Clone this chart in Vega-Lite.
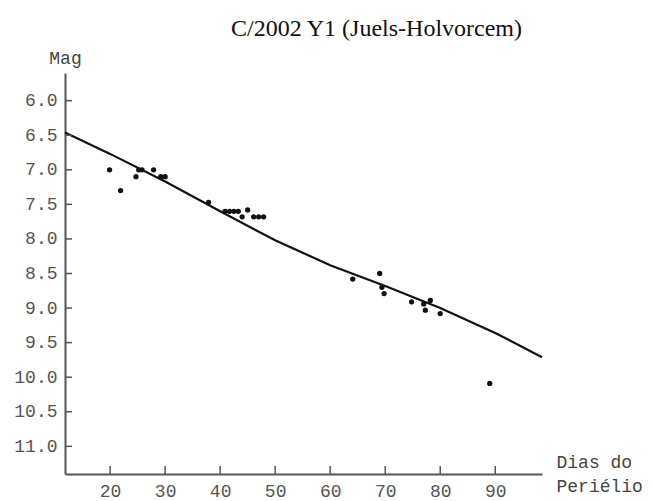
{
  "$schema": "https://vega.github.io/schema/vega-lite/v6.json",
  "width": 477,
  "height": 401,
  "autosize": {"type": "none"},
  "padding": {"left": 65, "top": 73, "right": 113, "bottom": 27},
  "background": "white",
  "title": {
    "text": "C/2002 Y1 (Juels-Holvorcem)",
    "font": "Liberation Serif",
    "fontSize": 24,
    "fontWeight": "normal",
    "color": "#111111",
    "anchor": "middle",
    "dx": 73,
    "offset": 8
  },
  "config": {
    "view": {"stroke": null},
    "axis": {
      "grid": false,
      "domainColor": "#555555",
      "domainWidth": 2,
      "labelFont": "Liberation Mono",
      "labelFontSize": 18,
      "labelColor": "#555555",
      "titleFont": "Liberation Mono",
      "titleFontSize": 18,
      "titleFontWeight": "normal",
      "titleColor": "#444444"
    }
  },
  "datasets": {
    "curve": [
      {"dias": 11.8, "mag": 6.46},
      {"dias": 20, "mag": 6.77},
      {"dias": 30, "mag": 7.17},
      {"dias": 40, "mag": 7.6},
      {"dias": 50, "mag": 8.02},
      {"dias": 60, "mag": 8.38},
      {"dias": 70, "mag": 8.68},
      {"dias": 80, "mag": 9.0},
      {"dias": 90, "mag": 9.36},
      {"dias": 98.5, "mag": 9.71}
    ],
    "obs": [
      {"dias": 19.9, "mag": 7.0},
      {"dias": 21.9, "mag": 7.3},
      {"dias": 24.7, "mag": 7.1},
      {"dias": 25.2, "mag": 7.0},
      {"dias": 25.8, "mag": 7.0},
      {"dias": 27.9, "mag": 7.0},
      {"dias": 29.2, "mag": 7.1},
      {"dias": 30.0, "mag": 7.1},
      {"dias": 37.9, "mag": 7.47},
      {"dias": 40.9, "mag": 7.6},
      {"dias": 41.7, "mag": 7.6},
      {"dias": 42.5, "mag": 7.6},
      {"dias": 43.3, "mag": 7.6},
      {"dias": 44.0, "mag": 7.68},
      {"dias": 45.0, "mag": 7.58},
      {"dias": 46.1, "mag": 7.68},
      {"dias": 47.0, "mag": 7.68},
      {"dias": 47.9, "mag": 7.68},
      {"dias": 64.1, "mag": 8.58},
      {"dias": 69.0, "mag": 8.5},
      {"dias": 69.4, "mag": 8.7},
      {"dias": 69.8, "mag": 8.79},
      {"dias": 74.8, "mag": 8.91},
      {"dias": 77.0, "mag": 8.94},
      {"dias": 77.3, "mag": 9.03},
      {"dias": 78.2, "mag": 8.89},
      {"dias": 80.0, "mag": 9.08},
      {"dias": 89.0, "mag": 10.09}
    ],
    "xticks": [{"v": 20}, {"v": 30}, {"v": 40}, {"v": 50}, {"v": 60}, {"v": 70}, {"v": 80}, {"v": 90}],
    "yticks": [{"v": 6.0}, {"v": 6.5}, {"v": 7.0}, {"v": 7.5}, {"v": 8.0}, {"v": 8.5}, {"v": 9.0}, {"v": 9.5}, {"v": 10.0}, {"v": 10.5}, {"v": 11.0}]
  },
  "layer": [
    {
      "data": {"name": "curve"},
      "mark": {"type": "line", "color": "#111111", "strokeWidth": 2.2, "clip": false},
      "encoding": {
        "x": {
          "field": "dias", "type": "quantitative",
          "scale": {"domain": [11.8, 98.5], "nice": false, "zero": false},
          "axis": {
            "values": [20, 30, 40, 50, 60, 70, 80, 90],
            "ticks": false,
            "labelPadding": 8,
            "title": ["Dias do", "Periélio"],
            "titleAnchor": "start",
            "titleAlign": "left",
            "titleBaseline": "top",
            "titleX": 491,
            "titleY": -21,
            "titleLineHeight": 24
          }
        },
        "y": {
          "field": "mag", "type": "quantitative",
          "scale": {"domain": [5.6, 11.4], "reverse": true, "nice": false, "zero": false},
          "axis": {
            "values": [6.0, 6.5, 7.0, 7.5, 8.0, 8.5, 9.0, 9.5, 10.0, 10.5, 11.0],
            "format": ".1f",
            "ticks": false,
            "labelPadding": 8,
            "title": "Mag",
            "titleAngle": 0,
            "titleAlign": "center",
            "titleBaseline": "middle",
            "titleX": 0,
            "titleY": -15
          }
        }
      }
    },
    {
      "data": {"name": "xticks"},
      "mark": {"type": "tick", "orient": "vertical", "color": "#555555", "opacity": 1, "size": 8, "thickness": 1.5, "yOffset": -4},
      "encoding": {
        "x": {"field": "v", "type": "quantitative"},
        "y": {"datum": 11.4}
      }
    },
    {
      "data": {"name": "yticks"},
      "mark": {"type": "tick", "orient": "horizontal", "color": "#555555", "opacity": 1, "size": 7, "thickness": 1.5, "xOffset": 3.5},
      "encoding": {
        "y": {"field": "v", "type": "quantitative"},
        "x": {"datum": 11.8}
      }
    },
    {
      "data": {"name": "obs"},
      "mark": {"type": "circle", "color": "#111111", "opacity": 1, "size": 28},
      "encoding": {
        "x": {"field": "dias", "type": "quantitative"},
        "y": {"field": "mag", "type": "quantitative"}
      }
    }
  ]
}
